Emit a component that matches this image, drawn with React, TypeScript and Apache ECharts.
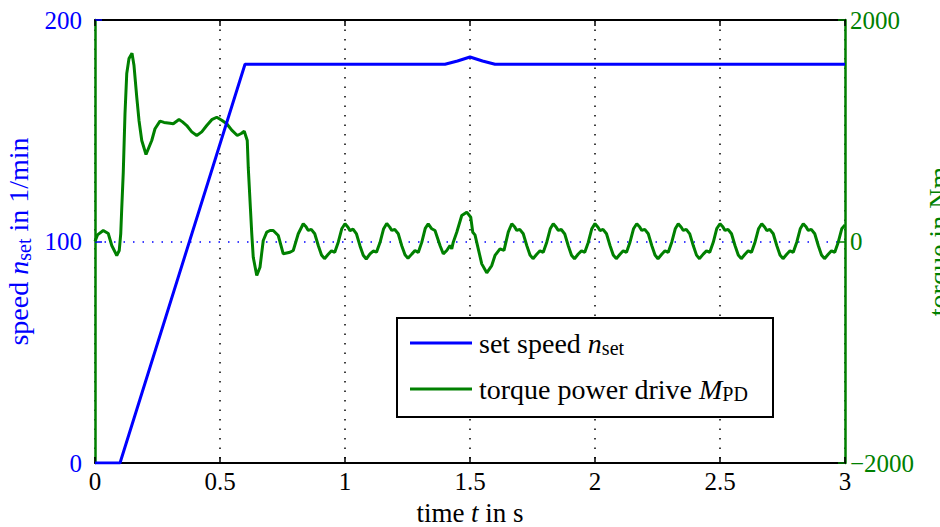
import React, { useEffect, useRef } from "react";
import * as echarts from "echarts";

const FONT = "Liberation Serif";
const BLUE = "#0000ff";
const GREEN = "#008000";

const timeTicks = [0, 0.5, 1, 1.5, 2, 2.5, 3];

const speedTime = [0, 0.1, 0.6, 1.4, 1.45, 1.5, 1.55, 1.6, 3];
const speedValue = [0, 0, 180, 180, 181.5, 183.3, 181.5, 180, 180];

const torqueTime = [
  0.0, 0.01, 0.033, 0.053, 0.067, 0.087, 0.097, 0.103, 0.107, 0.113, 0.12, 0.127, 0.136, 0.148, 0.156,
  0.167, 0.176, 0.187, 0.204, 0.227, 0.24, 0.26, 0.276, 0.3, 0.313, 0.336, 0.35, 0.367, 0.387, 0.407,
  0.427, 0.447, 0.467, 0.487, 0.507, 0.527, 0.547, 0.569, 0.585, 0.597, 0.609, 0.613, 0.62, 0.627, 0.633,
  0.647, 0.66, 0.673, 0.687, 0.7, 0.713, 0.733, 0.753, 0.78, 0.793, 0.813,
  0.833, 0.845, 0.853, 0.865, 0.879, 0.893, 0.906, 0.918, 0.933, 0.946, 0.959, 0.973, 0.987,
  1.0, 1.012, 1.02, 1.032, 1.046, 1.06, 1.073, 1.085, 1.1, 1.113, 1.126, 1.14, 1.154,
  1.167, 1.179, 1.187, 1.199, 1.213, 1.227, 1.24, 1.252, 1.267, 1.28, 1.293, 1.307, 1.321,
  1.333, 1.347, 1.36, 1.38, 1.393, 1.407, 1.42, 1.427, 1.433, 1.447, 1.467,
  1.487, 1.503, 1.511, 1.52, 1.533, 1.547, 1.567, 1.587, 1.6, 1.62, 1.636, 1.653,
  1.667, 1.679, 1.687, 1.699, 1.713, 1.727, 1.74, 1.752, 1.767, 1.78, 1.793, 1.807, 1.821,
  1.833, 1.845, 1.853, 1.865, 1.879, 1.893, 1.906, 1.918, 1.933, 1.946, 1.959, 1.973, 1.987,
  2.0, 2.012, 2.02, 2.032, 2.046, 2.06, 2.073, 2.085, 2.1, 2.113, 2.126, 2.14, 2.154,
  2.167, 2.179, 2.187, 2.199, 2.213, 2.227, 2.24, 2.252, 2.267, 2.28, 2.293, 2.307, 2.321,
  2.333, 2.345, 2.353, 2.365, 2.379, 2.393, 2.406, 2.418, 2.433, 2.446, 2.459, 2.473, 2.487,
  2.5, 2.512, 2.52, 2.532, 2.546, 2.56, 2.573, 2.585, 2.6, 2.613, 2.626, 2.64, 2.654,
  2.667, 2.679, 2.687, 2.699, 2.713, 2.727, 2.74, 2.752, 2.767, 2.78, 2.793, 2.807, 2.821,
  2.833, 2.845, 2.853, 2.865, 2.879, 2.893, 2.906, 2.918, 2.933, 2.946, 2.959, 2.973, 2.987,
  3.0,
];

const torqueValue = [
  0, 60, 99, 72, -36, -126, -81, 72, 300, 620, 1156, 1517, 1652, 1700, 1589,
  1303, 1093, 912, 786, 912, 1018, 1087, 1075, 1068, 1063, 1102, 1080, 1047, 990, 957,
  990, 1047, 1100, 1122, 1095, 1063, 1005, 957, 975, 996, 912, 671, 370, 72, -142,
  -307, -232, 9, 84, 99, 99, 54, -111, -97, -81, 70,
  160, 130, 100, 110, 70, -36, -122, -155, -115, -84, -98, -6, 115,
  160, 128, 98, 112, 68, -40, -124, -158, -112, -86, -96, -10, 112,
  162, 130, 100, 108, 70, -38, -120, -152, -114, -82, -100, -8, 118,
  160, 115, 99, -36, -111, -81, -36, -66, -6, 84, 235,
  265, 219, 84, 60, -66, -202, -283, -217, -126, -66, -80, 84,
  160, 130, 100, 110, 70, -36, -122, -155, -115, -84, -98, -6, 115,
  160, 128, 100, 108, 68, -38, -124, -156, -113, -85, -97, -8, 114,
  161, 129, 99, 110, 70, -36, -122, -155, -115, -84, -98, -6, 115,
  160, 130, 100, 110, 70, -36, -122, -156, -115, -84, -98, -6, 115,
  160, 129, 100, 109, 69, -37, -123, -155, -114, -85, -98, -7, 116,
  160, 130, 100, 110, 70, -36, -122, -155, -115, -84, -98, -6, 115,
  160, 129, 99, 110, 70, -36, -122, -155, -115, -84, -98, -6, 115,
  160, 130, 100, 110, 70, -36, -122, -155, -115, -84, -98, -6, 115,
  150,
];

const leftTicks = [0, 100, 200];
const rightTicks = [-2000, 0, 2000];

const seriesNames = ["speed", "torque"];

export default function App() {
  const ref = useRef<HTMLDivElement>(null);

  useEffect(() => {
    if (!ref.current) return;
    document.body.style.margin = "0";
    const chart = echarts.init(ref.current, null, { renderer: "svg", width: 940, height: 527 });

    const speedData = speedTime.map((t, i) => [t, speedValue[i]]);
    const torqueData = torqueTime.map((t, i) => [t, torqueValue[i]]);

    const richBase = (color: string, size: number, lh: number) => ({
      a: { fontFamily: FONT, fontSize: size, color, lineHeight: lh },
      i: { fontFamily: FONT, fontSize: size, color, fontStyle: "italic", lineHeight: lh },
      s: { fontFamily: FONT, fontSize: Math.round(size * 0.7), color, lineHeight: Math.round(size * 0.7), verticalAlign: "bottom" },
    });

    chart.setOption({
      animation: false,
      backgroundColor: "#ffffff",
      grid: { left: 95, right: 95, top: 20, bottom: 64, containLabel: false, outerBoundsMode: "none" },
      xAxis: [
        {
          type: "value",
          min: timeTicks[0],
          max: timeTicks[timeTicks.length - 1],
          interval: 0.5,
          position: "bottom",
          name: "{a|time }{i|t}{a| in s}",
          nameLocation: "middle",
          nameGap: 35,
          nameTextStyle: { rich: richBase("#000", 27, 30) },
          axisLine: { show: true, onZero: false, lineStyle: { color: "#000", width: 2 } },
          axisTick: { show: true, inside: true, length: 6, lineStyle: { color: "#000", width: 1.5 } },
          axisLabel: { color: "#000", fontFamily: FONT, fontSize: 25, margin: 6 },
          splitLine: { show: true, lineStyle: { color: "#000", width: 1.5, type: [1.5, 8] } },
        },
        {
          type: "value",
          min: timeTicks[0],
          max: timeTicks[timeTicks.length - 1],
          interval: 0.5,
          position: "top",
          axisLine: { show: true, onZero: false, lineStyle: { color: "#000", width: 2 } },
          axisTick: { show: true, inside: true, length: 6, lineStyle: { color: "#000", width: 1.5 } },
          axisLabel: { show: false },
          splitLine: { show: false },
        },
      ],
      yAxis: [
        {
          type: "value",
          min: leftTicks[0],
          max: leftTicks[leftTicks.length - 1],
          interval: 100,
          position: "left",
          name: "{a|speed }{i|n}{s|set}{a| in 1/min}",
          nameLocation: "middle",
          nameRotate: 90,
          nameGap: 58,
          nameTextStyle: { rich: richBase(BLUE, 28, 30) },
          axisLine: { show: true, onZero: false, lineStyle: { color: GREEN, width: 2.5 } },
          axisTick: { show: true, inside: true, length: 7, lineStyle: { color: BLUE, width: 1.5 } },
          axisLabel: { color: BLUE, fontFamily: FONT, fontSize: 25, margin: 13 },
          splitLine: { show: true, lineStyle: { color: BLUE, width: 1.5, type: [1.5, 8] } },
        },
        {
          type: "value",
          min: rightTicks[0],
          max: rightTicks[rightTicks.length - 1],
          interval: 2000,
          position: "right",
          name: "torque in Nm",
          nameLocation: "middle",
          nameRotate: 90,
          nameGap: 78,
          nameTextStyle: { color: GREEN, fontFamily: FONT, fontSize: 28 },
          axisLine: { show: true, onZero: false, lineStyle: { color: GREEN, width: 2.5 } },
          axisTick: { show: true, inside: true, length: 7, lineStyle: { color: GREEN, width: 1.5 } },
          axisLabel: {
            color: GREEN,
            fontFamily: FONT,
            fontSize: 25,
            margin: 5,
            formatter: (v: number) => String(v).replace("-", "\u2212"),
          },
          splitLine: { show: false },
        },
      ],
      legend: {
        show: true,
        orient: "vertical",
        left: 410,
        top: 329,
        padding: 0,
        itemGap: 17,
        itemWidth: 62,
        itemHeight: 3,
        icon: "rect",
        z: 11,
        data: seriesNames,
        formatter: (name: string) =>
          name === "speed"
            ? "{a|set speed }{i|n}{s|set}"
            : "{a|torque power drive }{i|M}{s|PD}",
        textStyle: { padding: [0, 0, 0, 2], rich: richBase("#000", 28, 30) },
      },
      graphic: [
        {
          type: "rect",
          z: 10,
          shape: { x: 397, y: 318, width: 376, height: 99 },
          style: { fill: "#ffffff", stroke: "#000000", lineWidth: 2 },
        },
      ],
      series: [
        {
          name: seriesNames[1],
          type: "line",
          xAxisIndex: 0,
          yAxisIndex: 1,
          data: torqueData,
          showSymbol: false,
          symbol: "none",
          color: GREEN,
          lineStyle: { color: GREEN, width: 3 },
          z: 3,
        },
        {
          name: seriesNames[0],
          type: "line",
          xAxisIndex: 0,
          yAxisIndex: 0,
          data: speedData,
          showSymbol: false,
          symbol: "none",
          color: BLUE,
          lineStyle: { color: BLUE, width: 3 },
          z: 4,
        },
      ],
    });

    return () => chart.dispose();
  }, []);

  return (
    <div
      ref={ref}
      style={{ position: "fixed", left: 0, top: 0, width: 940, height: 527, background: "#fff" }}
    />
  );
}
